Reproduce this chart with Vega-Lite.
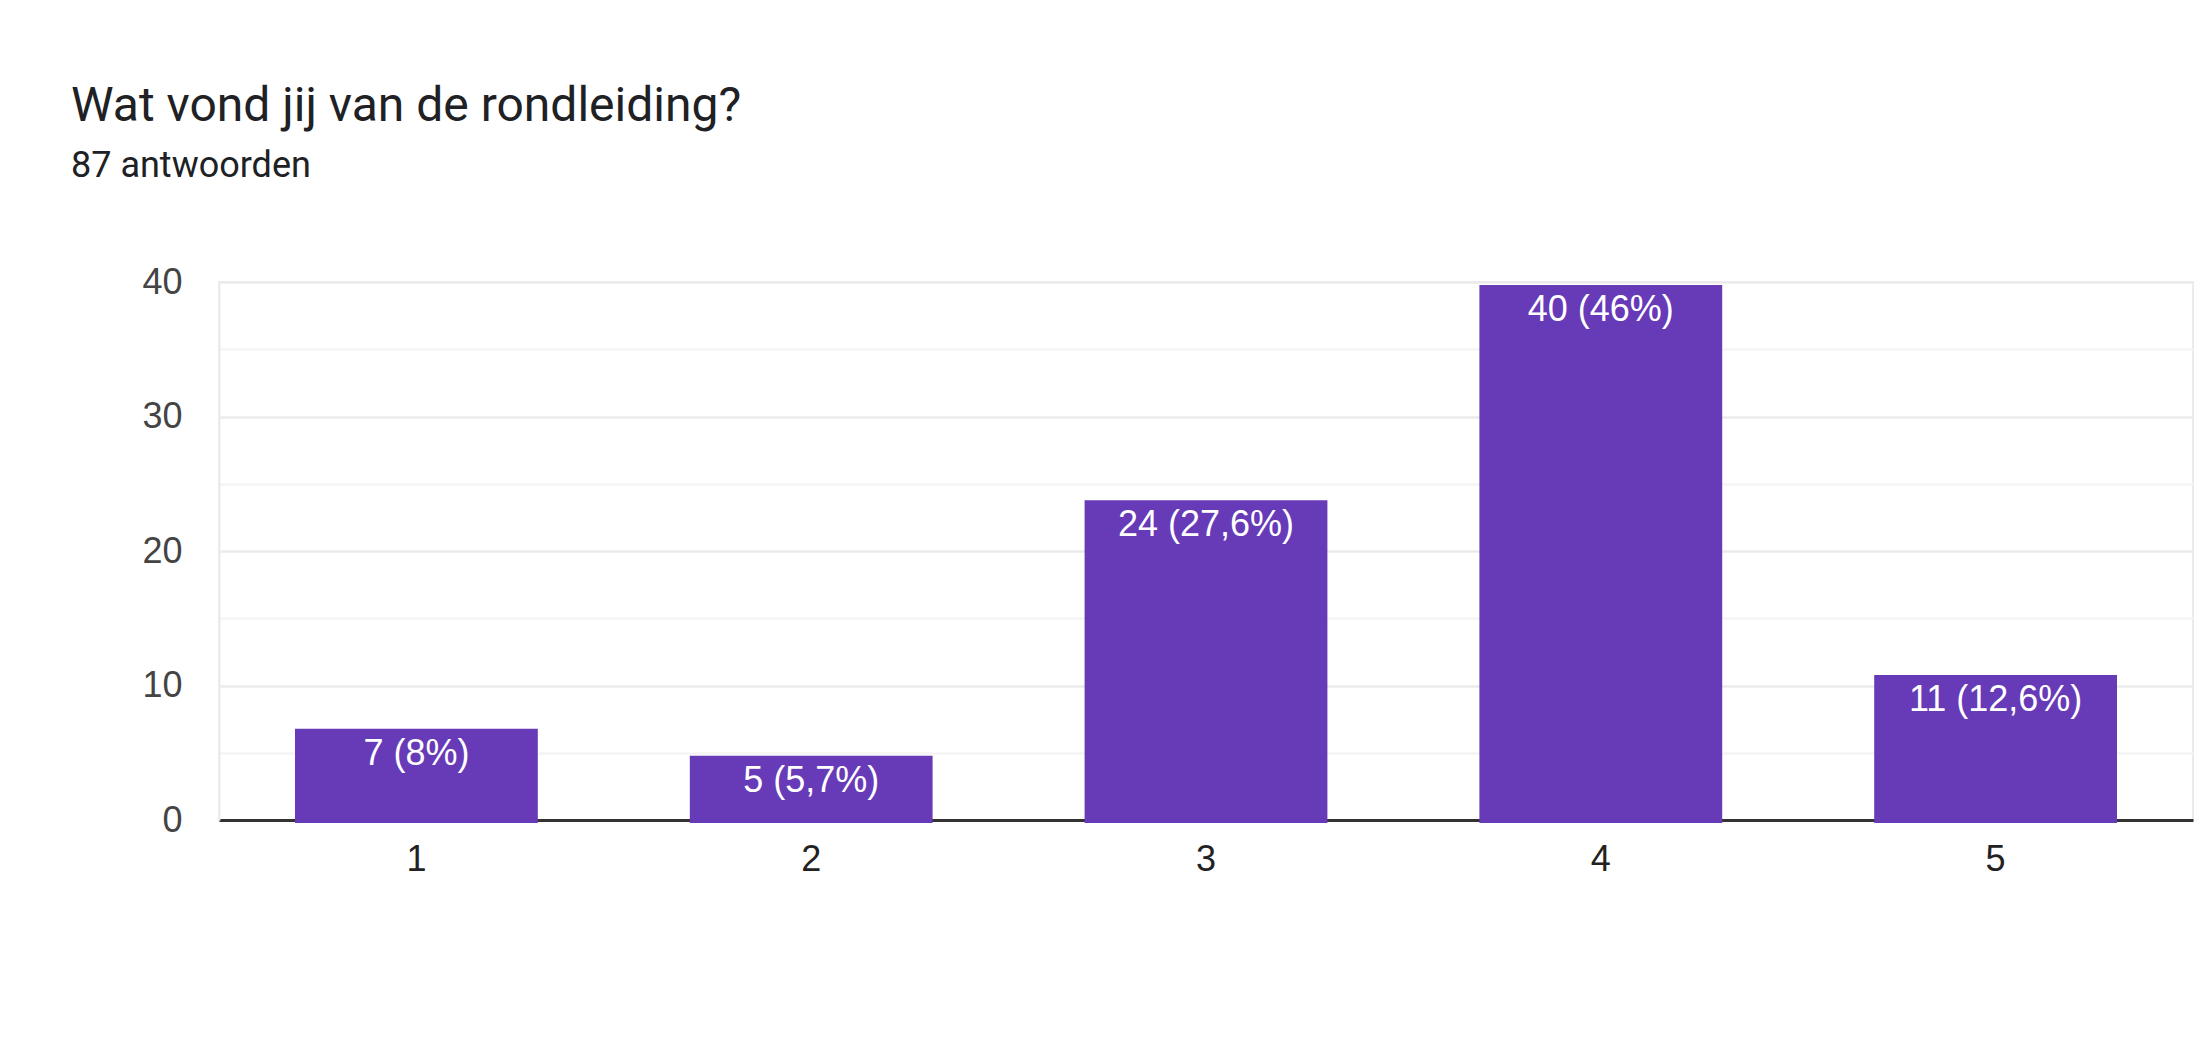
{
  "$schema": "https://vega.github.io/schema/vega-lite/v6.json",
  "width": 1974,
  "height": 538,
  "autosize": {"type": "none"},
  "padding": {"left": 219, "top": 282, "right": 3, "bottom": 224},
  "background": "white",
  "title": {
    "text": "Wat vond jij van de rondleiding?",
    "subtitle": "87 antwoorden",
    "anchor": "start",
    "frame": "group",
    "dx": -148,
    "offset": 80,
    "font": "Roboto",
    "fontSize": 48,
    "fontWeight": "normal",
    "color": "#202124",
    "subtitleFont": "Roboto",
    "subtitleFontSize": 36,
    "subtitleColor": "#202124",
    "subtitlePadding": 18
  },
  "data": {
    "values": [
      {"rating": "1", "count": 7, "label": "7 (8%)"},
      {"rating": "2", "count": 5, "label": "5 (5,7%)"},
      {"rating": "3", "count": 24, "label": "24 (27,6%)"},
      {"rating": "4", "count": 40, "label": "40 (46%)"},
      {"rating": "5", "count": 11, "label": "11 (12,6%)"}
    ]
  },
  "encoding": {
    "x": {
      "field": "rating",
      "type": "nominal",
      "sort": null,
      "scale": {"paddingInner": 0.385, "paddingOuter": 0.1925},
      "axis": {
        "title": null,
        "labelAngle": 0,
        "labelFont": "Liberation Sans",
        "labelFontSize": 36,
        "labelColor": "#222222",
        "labelBaseline": "alphabetic",
        "labelPadding": 50,
        "ticks": false,
        "tickSize": 0,
        "domainColor": "#333333",
        "domainWidth": 3,
        "grid": false
      }
    }
  },
  "layer": [
    {
      "mark": {"type": "bar", "color": "#673ab7", "yOffset": 3, "y2Offset": 0},
      "encoding": {
        "y": {
          "field": "count",
          "type": "quantitative",
          "scale": {"domain": [0, 40], "nice": false, "zero": true},
          "axis": {
            "title": null,
            "values": [0, 10, 20, 30, 40],
            "labelFont": "Liberation Sans",
            "labelFontSize": 36,
            "labelColor": "#444444",
            "labelPadding": 37,
            "labelBaseline": "middle",
            "ticks": false,
            "tickSize": 0,
            "domainColor": "#ebebeb",
            "domainWidth": 2,
            "grid": true,
            "gridColor": "#ebebeb",
            "gridWidth": 2.5
          }
        }
      }
    },
    {
      "mark": {
        "type": "text",
        "color": "white",
        "font": "Liberation Sans",
        "fontSize": 36,
        "baseline": "alphabetic",
        "align": "center",
        "dy": 39
      },
      "encoding": {
        "y": {
          "field": "count",
          "type": "quantitative",
          "axis": {
            "title": null,
            "values": [5, 15, 25, 35],
            "labels": false,
            "ticks": false,
            "domain": false,
            "grid": true,
            "gridColor": "#f4f4f4",
            "gridWidth": 2.5
          }
        },
        "text": {"field": "label"}
      }
    }
  ],
  "resolve": {"axis": {"y": "independent"}},
  "config": {
    "view": {"stroke": "#ebebeb", "strokeWidth": 2}
  }
}
